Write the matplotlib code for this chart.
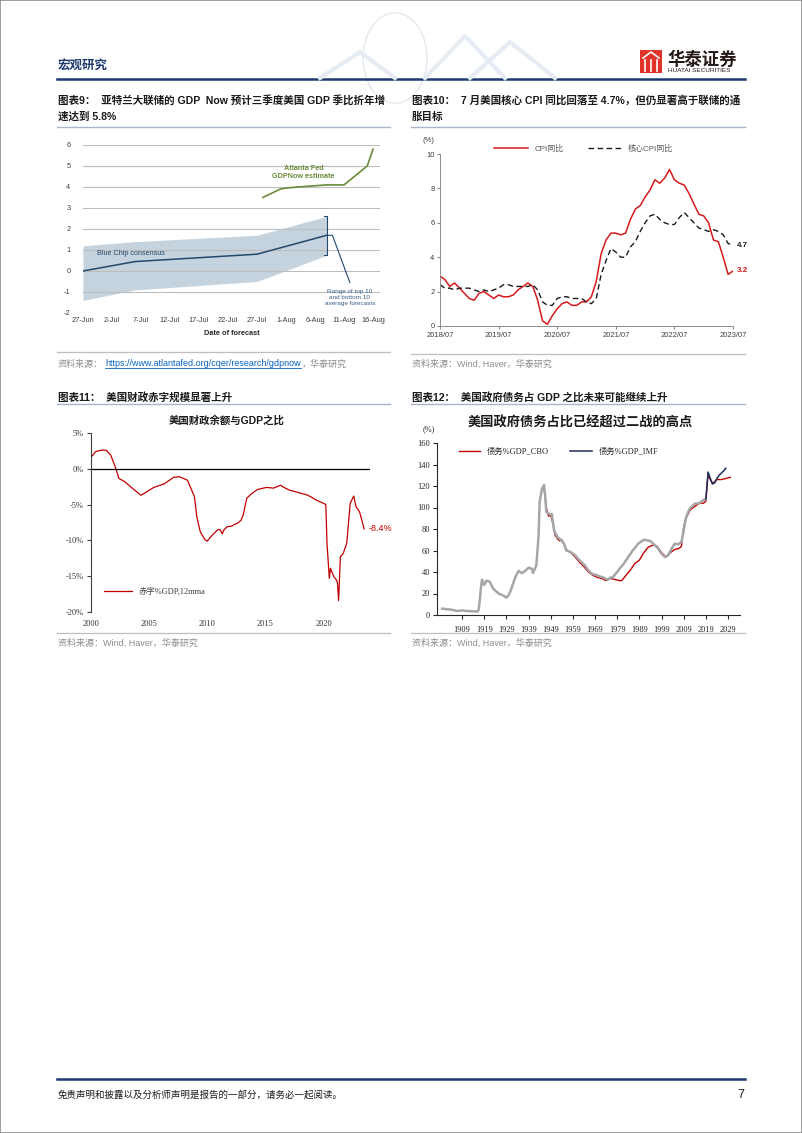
import matplotlib
matplotlib.use('Agg')
import matplotlib.pyplot as plt
import matplotlib.patches as mpatches
import numpy as np
import pandas as pd

W, H = 802, 1133
plt.rcParams['font.family'] = ['Liberation Sans', 'Noto Sans CJK SC']
plt.rcParams['axes.unicode_minus'] = False
SERIF = ['Liberation Serif', 'Noto Sans CJK SC']

# ---------- 图表9: GDPNow ----------
gdpnow_dates = ['2023-07-28', '2023-07-31', '2023-08-01', '2023-08-03',
                '2023-08-08', '2023-08-11', '2023-08-15', '2023-08-16']
gdpnow_vals = [3.5, 3.9, 3.95, 4.0, 4.1, 4.1, 5.0, 5.8]
bluechip_dates = ['2023-06-27', '2023-07-06', '2023-07-27', '2023-08-08']
bluechip_vals = [0.0, 0.45, 0.8, 1.7]
bluechip_hi = [1.2, 1.4, 1.7, 2.6]
bluechip_lo = [-1.4, -0.9, -0.5, 0.75]
gdp_tick_labels = ['27-Jun', '2-Jul', '7-Jul', '12-Jul', '17-Jul', '22-Jul',
                   '27-Jul', '1-Aug', '6-Aug', '11-Aug', '16-Aug']

# ---------- 图表10: CPI ----------
cpi_yoy = [2.9, 2.7, 2.3, 2.5, 2.2, 1.9,
           1.6, 1.5, 1.9, 2.0, 1.8, 1.6, 1.8, 1.7, 1.7, 1.8, 2.1, 2.3,
           2.5, 2.3, 1.5, 0.3, 0.1, 0.6, 1.0, 1.3, 1.4, 1.2, 1.2, 1.4,
           1.4, 1.7, 2.6, 4.2, 5.0, 5.4, 5.4, 5.3, 5.4, 6.2, 6.8, 7.0,
           7.5, 7.9, 8.5, 8.3, 8.6, 9.1, 8.5, 8.3, 8.2, 7.7, 7.1, 6.5,
           6.4, 6.0, 5.0, 4.9, 4.0, 3.0, 3.2]
core_yoy = [2.4, 2.2, 2.2, 2.1, 2.2, 2.2,
            2.2, 2.1, 2.0, 2.1, 2.0, 2.1, 2.2, 2.4, 2.4, 2.3, 2.3, 2.3,
            2.3, 2.4, 2.1, 1.4, 1.2, 1.2, 1.6, 1.7, 1.7, 1.6, 1.6, 1.6,
            1.4, 1.3, 1.6, 3.0, 3.8, 4.5, 4.3, 4.0, 4.0, 4.6, 4.9, 5.5,
            6.0, 6.4, 6.5, 6.2, 6.0, 5.9, 5.9, 6.3, 6.6, 6.3, 6.0, 5.7,
            5.6, 5.5, 5.6, 5.5, 5.3, 4.8, 4.7]
cpi_tick_labels = ['2018/07', '2019/07', '2020/07', '2021/07', '2022/07', '2023/07']

# ---------- 图表11: 财政余额/GDP ----------
deficit_points = [(2000.0, 1.6), (2000.4, 2.4), (2000.9, 2.6), (2001.3, 2.6), (2001.7, 1.9),
                  (2002.1, 0.2), (2002.4, -1.35), (2002.9, -1.8), (2003.4, -2.5), (2004.3, -3.7),
                  (2004.6, -3.4), (2005.4, -2.6), (2006.3, -2.1), (2007.1, -1.2), (2007.6, -1.1),
                  (2008.3, -1.6), (2008.9, -3.9), (2009.1, -6.7), (2009.4, -8.8), (2009.8, -9.9),
                  (2010.0, -10.1), (2010.3, -9.5), (2010.9, -8.5), (2011.1, -8.5), (2011.3, -9.1),
                  (2011.4, -8.6), (2011.7, -8.1), (2012.1, -8.0), (2012.3, -7.8), (2012.6, -7.6),
                  (2012.9, -7.2), (2013.1, -6.4), (2013.4, -4.1), (2013.8, -3.5), (2014.3, -2.9),
                  (2015.1, -2.6), (2015.7, -2.7), (2016.3, -2.3), (2016.6, -2.6), (2017.1, -3.0),
                  (2017.6, -3.2), (2018.0, -3.4), (2018.5, -3.6), (2018.9, -3.9), (2019.3, -4.3),
                  (2019.7, -4.6), (2020.1, -4.9), (2020.2, -5.0), (2020.3, -10.4), (2020.5, -15.3),
                  (2020.6, -13.9), (2020.9, -15.1), (2021.1, -15.5), (2021.2, -15.9), (2021.3, -18.4),
                  (2021.45, -12.3), (2021.7, -11.8), (2022.0, -10.4), (2022.3, -4.8), (2022.6, -3.8),
                  (2022.8, -5.3), (2023.1, -6.0), (2023.5, -8.4)]

# ---------- 图表12: 政府债务/GDP ----------
debt_hist = [(1900, 5.9), (1904, 5.0), (1907, 3.7), (1909, 4.3), (1911, 3.7), (1915, 3.4),
             (1916, 3.1), (1916.5, 5), (1917, 13.6), (1917.4, 23), (1918, 33), (1919, 28),
             (1920, 32), (1921.5, 31), (1923, 24.5), (1925.5, 20), (1928, 17.7), (1929, 16.1),
             (1930, 18.3), (1931, 23), (1933, 35), (1934.5, 41), (1936, 39), (1937.5, 41),
             (1939, 44), (1940.5, 43), (1941, 39), (1942.5, 46), (1943.5, 72.6), (1944, 105),
             (1945, 117), (1946, 121), (1946.5, 111), (1947, 96), (1948.5, 93.6), (1949.5, 94),
             (1950.5, 79), (1952, 72.5), (1953, 71), (1955, 66.4), (1956, 60), (1958, 58.6),
             (1960, 55.5), (1962, 50.9), (1964.5, 46), (1966, 41.5), (1967.5, 38.5), (1969.7, 37),
             (1971, 36), (1973, 34.7), (1974.5, 32.9), (1976, 34.7), (1977, 35.3), (1979, 40),
             (1980, 43), (1982, 47.8), (1984, 54), (1986, 60), (1988.5, 66.4), (1991, 70),
             (1994, 68.8), (1997, 63), (1999, 57), (2000.5, 54), (2002, 55.5), (2003.5, 61.7),
             (2005, 66.4), (2006.5, 65.7), (2008, 68), (2009, 78.8), (2010, 90.5), (2011.7, 99),
             (2014, 103.6), (2016, 104), (2018, 107), (2019, 108)]
debt_cbo = [(1946, 118), (1947, 100), (1948, 92), (1949, 93), (1950, 85), (1951, 74), (1952, 71),
            (1953, 69), (1954, 70), (1955, 66), (1956, 61), (1958, 58), (1960, 54), (1962, 49),
            (1964, 45), (1966, 40), (1968, 37), (1970, 35), (1972, 34), (1974, 32), (1976, 34),
            (1978, 33), (1980, 32), (1981, 32), (1983, 37), (1985, 42), (1987, 48), (1989, 51),
            (1991, 58), (1993, 63), (1995, 65), (1997, 64), (1999, 58), (2001, 54), (2003, 58),
            (2005, 61), (2007, 62), (2008, 64), (2009, 82), (2010, 90), (2012, 98), (2014, 101),
            (2016, 104), (2018, 104), (2019, 106), (2020, 131), (2021, 126), (2022, 122),
            (2023, 124), (2024, 126), (2026, 126), (2028, 127), (2030, 128)]
debt_imf = [(2019, 108), (2020, 133), (2021, 127), (2022, 122), (2023, 123), (2024, 127),
            (2025, 130), (2026, 132), (2027, 134), (2028, 136.5)]
debt_tick_years = list(range(1909, 2030, 10))

fig = plt.figure(figsize=(W / 100, H / 100), dpi=100)
fig.patch.set_facecolor('white')


def px_axes(l, t, r, b):
    return fig.add_axes([l / W, 1 - b / H, (r - l) / W, (b - t) / H])


def ftext(x, y, s, **kw):
    return fig.text(x / W, 1 - y / H, s, **kw)


def hline(x0, x1, y, color, lw):
    fig.add_artist(plt.Line2D([x0 / W, x1 / W], [1 - y / H, 1 - y / H],
                              color=color, lw=lw, transform=fig.transFigure))


# page frame
fig.add_artist(mpatches.Rectangle((0, 0), 1, 1, transform=fig.transFigure,
                                  fill=False, ec='#8c8c8c', lw=1.2))

# header
ftext(58, 66, '宏观研究', fontsize=9, fontweight='bold', color='#1f3a6e', va='center')
hline(57, 745, 79, '#1f3a6e', 1.8)
# faint decoration (globe + peaks)
fig.add_artist(mpatches.Circle((395 / W, 1 - 58 / H), 32 / W, transform=fig.transFigure,
                               fill=False, ec='#e4e9ef', lw=1.0))
for xs, ys in [([320, 360, 395], [78, 52, 78]), ([425, 465, 505], [78, 36, 78]),
               ([470, 510, 555], [78, 42, 78])]:
    fig.add_artist(plt.Line2D([v / W for v in xs], [1 - v / H for v in ys],
                              color='#e6ecf3', lw=3, transform=fig.transFigure))
# logo
fig.add_artist(mpatches.Rectangle((640 / W, 1 - 73 / H), 22 / W, 23 / H,
                                  transform=fig.transFigure, fc='#e2332a', ec='none'))
for xx in [645, 651, 657]:
    fig.add_artist(plt.Line2D([xx / W, xx / W], [1 - 71 / H, 1 - 60 / H], color='white',
                              lw=1.2, transform=fig.transFigure))
fig.add_artist(plt.Line2D([643 / W, 651 / W, 659 / W], [1 - 58 / H, 1 - 52 / H, 1 - 58 / H],
                          color='white', lw=1.2, transform=fig.transFigure))
ftext(667, 59, '华泰证券', fontsize=12.5, fontweight='bold', color='#231815', va='center')
ftext(668, 71, 'HUATAI SECURITIES', fontsize=4.6, color='#231815', va='center')

# chart titles
tkw = dict(fontsize=7.6, fontweight='bold', color='#1a1a1a', va='center')
ftext(58, 100, '图表9：  亚特兰大联储的 GDP  Now 预计三季度美国 GDP 季比折年增', **tkw)
ftext(58, 117, '速达到 5.8%', **tkw)
ftext(412, 100, '图表10：  7 月美国核心 CPI 同比回落至 4.7%，但仍显著高于联储的通', **tkw)
ftext(412, 117, '胀目标', **tkw)
ftext(58, 397, '图表11：  美国财政赤字规模显著上升', **tkw)
ftext(412, 397, '图表12：  美国政府债务占 GDP 之比未来可能继续上升', **tkw)
for x0, x1, y in [(57, 390, 127), (411, 745, 127), (57, 390, 404), (411, 745, 404)]:
    hline(x0, x1, y, '#a9b6c6', 1.0)
for x0, x1, y in [(57, 390, 352), (411, 745, 354), (57, 390, 633), (411, 745, 633)]:
    hline(x0, x1, y, '#bfbfbf', 0.9)

# ---------- chart 9 ----------
ax9 = px_axes(83, 145, 380, 313)
d0 = pd.Timestamp('2023-06-27')
ax9.set_xlim(d0, d0 + pd.Timedelta(hours=51.2 * 24))
ax9.set_ylim(-2, 6)
for v in range(-2, 7):
    ax9.axhline(v, color='#bdbdbd', lw=0.8, zorder=2)
bc_d = pd.to_datetime(bluechip_dates)
ax9.fill_between(bc_d, bluechip_lo, bluechip_hi, color='#c5d3de', lw=0, zorder=1)
navy9 = '#24476b'
ax9.plot(bc_d, bluechip_vals, color=navy9, lw=1.1, zorder=3)
ax9.plot(pd.to_datetime(gdpnow_dates), gdpnow_vals, color='#6a8b3a', lw=1.2, zorder=3)
br = bc_d[-1]
ax9.plot([br - pd.Timedelta(hours=12), br, br, br - pd.Timedelta(hours=12)],
         [bluechip_hi[-1], bluechip_hi[-1], bluechip_lo[-1], bluechip_lo[-1]],
         color=navy9, lw=0.8, zorder=4)
ax9.plot([br, br + pd.Timedelta(days=1), br + pd.Timedelta(days=4)],
         [bluechip_vals[-1], bluechip_vals[-1], -0.55], color=navy9, lw=0.8, zorder=4)
ax9.text(br + pd.Timedelta(days=4), -1.25, 'Range of top 10\nand bottom 10\naverage forecasts',
         fontsize=4.6, color='#3a5f8a', ha='center', va='center', linespacing=1.25)
ax9.text(pd.Timestamp('2023-08-04'), 4.68, 'Atlanta Fed\nGDPNow estimate', fontsize=5.2,
         fontweight='bold', color='#6a8b3a', ha='center', va='center', linespacing=1.1)
ax9.text(pd.Timestamp('2023-06-29 08:00'), 0.82, 'Blue Chip consensus', fontsize=5.2,
         color=navy9, ha='left', va='center')
ax9.set_xticks(pd.date_range('2023-06-27', periods=len(gdp_tick_labels), freq='5D'))
ax9.set_xticklabels(gdp_tick_labels)
ax9.set_yticks(range(-2, 7))
ax9.tick_params(length=0, labelsize=5.3, labelcolor='#404040', pad=3)
ax9.tick_params(axis='y', pad=9)
for s in ax9.spines.values():
    s.set_visible(False)
ax9.set_xlabel('Date of forecast', fontsize=5.3, fontweight='bold', color='#262626', labelpad=4)

# ---------- chart 10 ----------
ax10 = px_axes(440, 154, 733, 326)
xm = np.arange(len(cpi_yoy))
ax10.plot(xm, cpi_yoy, color='#d7191c', lw=1.1, label='CPI同比')
ax10.plot(xm, core_yoy, color='#1a1a1a', lw=1.0, ls=(0, (4, 2.5)), label='核心CPI同比')
ax10.set_xlim(0, len(cpi_yoy) - 1)
ax10.set_ylim(0, 10)
ax10.set_xticks(range(0, len(cpi_yoy), 12))
ax10.set_xticklabels(cpi_tick_labels)
ax10.set_yticks(range(0, 11, 2))
ax10.tick_params(labelsize=5.5, labelcolor='#404040', length=2, color='#8c8c8c', pad=2)
for s in ['top', 'right']:
    ax10.spines[s].set_visible(False)
for s in ['left', 'bottom']:
    ax10.spines[s].set_color('#8c8c8c')
    ax10.spines[s].set_linewidth(0.7)
ax10.legend(loc='lower center', bbox_to_anchor=(0.49, 0.99), ncol=2, frameon=False,
            fontsize=5.8, handlelength=4.2, columnspacing=3, labelcolor='#595959',
            borderaxespad=0)
ax10.text(-0.02, 1.08, '(%)', transform=ax10.transAxes, fontsize=5.5, color='#404040',
          ha='right', va='center')
ax10.text(len(cpi_yoy) - 0.3, core_yoy[-1], '4.7', fontsize=5.8, fontweight='bold',
          color='#1a1a1a', va='center')
ax10.text(len(cpi_yoy) - 0.3, cpi_yoy[-1], '3.2', fontsize=5.8, fontweight='bold',
          color='#d7191c', va='center')

# ---------- chart 11 ----------
ax11 = px_axes(91, 433, 370, 612)
dt, dv = zip(*deficit_points)
ax11.plot(dt, dv, color='#c00000', lw=0.9, label='赤字%GDP,12mma')
ax11.axhline(0, color='black', lw=0.9)
ax11.set_xlim(2000, 2024)
ax11.set_ylim(-20, 5)
ax11.set_yticks(range(-20, 6, 5))
ax11.set_yticklabels([f'{v}%' for v in range(-20, 6, 5)])
ax11.set_xticks(range(2000, 2021, 5))
for s in ['top', 'right', 'bottom']:
    ax11.spines[s].set_visible(False)
ax11.spines['left'].set_color('#404040')
ax11.spines['left'].set_linewidth(0.8)
ax11.tick_params(axis='y', length=3, color='#404040', labelsize=6, pad=2)
ax11.tick_params(axis='x', length=0, labelsize=6, pad=6)
for lab in ax11.get_xticklabels() + ax11.get_yticklabels():
    lab.set_family(SERIF)
    lab.set_color('#333333')
ax11.legend(loc='lower left', bbox_to_anchor=(0.02, 0.05), frameon=False,
            handlelength=3.3, prop={'family': SERIF, 'size': 6}, labelcolor='#404040')
ax11.text(2023.9, -8.3, '-8.4%', fontsize=6.5, color='#c00000', ha='left', va='center')
ftext(227, 420, '美国财政余额与GDP之比', fontsize=7.5, fontweight='bold', color='#1a1a1a',
      ha='center', va='center')

# ---------- chart 12 ----------
ax12 = px_axes(437, 443, 740, 615)
cy, cv = zip(*debt_cbo)
hy, hv = zip(*debt_hist)
iy, iv = zip(*debt_imf)
ax12.plot(cy, cv, color='#c00000', lw=1.0, zorder=2, label='债务%GDP_CBO')
ax12.plot(hy, hv, color='#a6a6a6', lw=1.8, zorder=3)
ax12.plot(iy, iv, color='#1f2d5a', lw=1.1, zorder=4, label='债务%GDP_IMF')
ax12.set_xlim(1897.7, 2034.4)
ax12.set_ylim(0, 160)
ax12.set_yticks(range(0, 161, 20))
ax12.set_xticks(debt_tick_years)
for s in ['top', 'right']:
    ax12.spines[s].set_visible(False)
for s in ['left', 'bottom']:
    ax12.spines[s].set_color('#262626')
    ax12.spines[s].set_linewidth(0.8)
ax12.tick_params(length=3, color='#262626', labelsize=6, pad=2)
ax12.tick_params(axis='x', pad=5)
for lab in ax12.get_xticklabels() + ax12.get_yticklabels():
    lab.set_family(SERIF)
    lab.set_color('#262626')
ax12.legend(loc='center', bbox_to_anchor=(0.40, 0.948), ncol=2, frameon=False,
            prop={'family': SERIF, 'size': 6}, handlelength=2.6, columnspacing=2.5,
            labelcolor='#262626')
ax12.text(-0.005, 1.08, '(%)', transform=ax12.transAxes, fontsize=6, family=SERIF,
          color='#262626', ha='right', va='center')
ftext(580, 423, '美国政府债务占比已经超过二战的高点', fontsize=9.5, fontweight='bold',
      color='#1a1a1a', ha='center', va='center')

# ---------- sources ----------
skw = dict(fontsize=6.5, color='#8c8c8c', va='center')
fig.canvas.draw()
renderer = fig.canvas.get_renderer()
t1 = ftext(58, 364, '资料来源：', **skw)
bb = t1.get_window_extent(renderer)
t2 = fig.text((bb.x1 + 2) / W, 1 - 364 / H, 'https://www.atlantafed.org/cqer/research/gdpnow',
              fontsize=6.5, color='#0563c1', va='center')
bb2 = t2.get_window_extent(renderer)
fig.add_artist(plt.Line2D([bb2.x0 / W, bb2.x1 / W], [(bb2.y0 + 0.5) / H] * 2,
                          color='#0563c1', lw=0.6, transform=fig.transFigure))
fig.text((bb2.x1 + 1) / W, 1 - 364 / H, '，华泰研究', **skw)
ftext(412, 364, '资料来源：Wind, Haver，华泰研究', **skw)
ftext(58, 643, '资料来源：Wind, Haver，华泰研究', **skw)
ftext(412, 643, '资料来源：Wind, Haver，华泰研究', **skw)

# footer
hline(57, 745, 1079, '#1f3a6e', 1.8)
ftext(58, 1095, '免责声明和披露以及分析师声明是报告的一部分，请务必一起阅读。', fontsize=6.8,
      color='#1a1a1a', va='center', style='italic')
ftext(744, 1095, '7', fontsize=9, color='#1a1a1a', ha='right', va='center')

fig.savefig('out.png', dpi=100)
